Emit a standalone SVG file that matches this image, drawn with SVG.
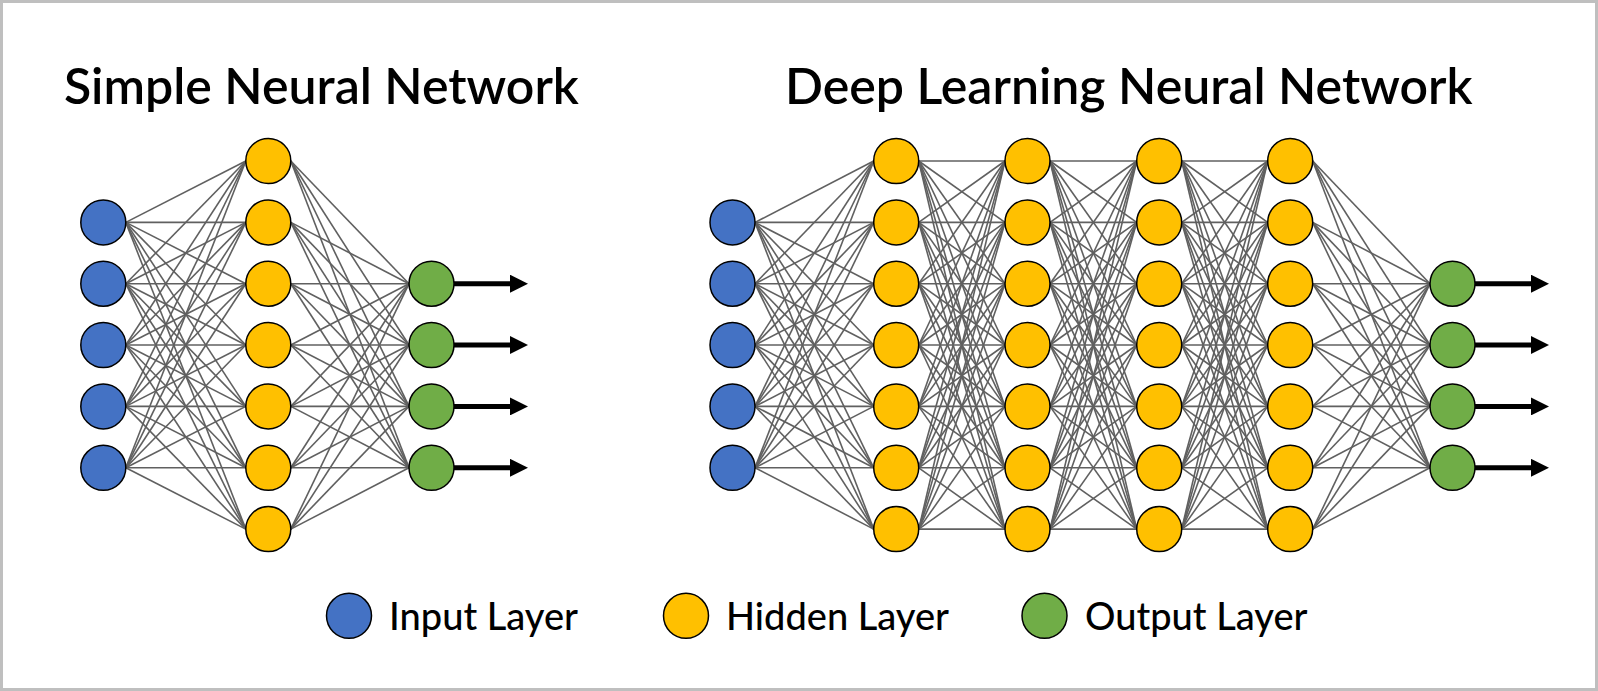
<svg xmlns="http://www.w3.org/2000/svg" width="1598" height="691" viewBox="0 0 1598 691">
<style>
.t{font-family:Lato,"Open Sans","Liberation Sans",sans-serif;font-weight:600;font-size:50px;fill:#000}
.l{font-family:Lato,"Open Sans","Liberation Sans",sans-serif;font-weight:500;font-size:38px;fill:#000}
.c line{stroke:#606060;stroke-width:1.6}
.n{stroke:#000;stroke-width:1.5}
.in{fill:#4472C4}.hd{fill:#FFC000}.ou{fill:#70AD47}
.ar{stroke:#000;stroke-width:5;marker-end:url(#ah)}
</style>
<defs>
<marker id="ah" markerUnits="userSpaceOnUse" markerWidth="18" markerHeight="18" refX="2" refY="9" orient="auto" viewBox="0 0 18 18"><path d="M0,0 L18,9 L0,18 z" fill="#000"/></marker>
</defs>
<rect x="1.5" y="1.5" width="1595" height="688" fill="#fff" stroke="#bfbfbf" stroke-width="3"/>
<text class="t" x="64" y="104">Simple Neural Network</text>
<text class="t" x="785" y="104">Deep Learning Neural Network</text>
<g id="connectors" class="c">
<line x1="125.8" y1="222.4" x2="245.8" y2="161"/><line x1="125.8" y1="222.4" x2="245.8" y2="222.4"/><line x1="125.8" y1="222.4" x2="245.8" y2="283.7"/><line x1="125.8" y1="222.4" x2="245.8" y2="345"/><line x1="125.8" y1="222.4" x2="245.8" y2="406.4"/><line x1="125.8" y1="222.4" x2="245.8" y2="467.8"/><line x1="125.8" y1="222.4" x2="245.8" y2="529.1"/>
<line x1="125.8" y1="283.7" x2="245.8" y2="161"/><line x1="125.8" y1="283.7" x2="245.8" y2="222.4"/><line x1="125.8" y1="283.7" x2="245.8" y2="283.7"/><line x1="125.8" y1="283.7" x2="245.8" y2="345"/><line x1="125.8" y1="283.7" x2="245.8" y2="406.4"/><line x1="125.8" y1="283.7" x2="245.8" y2="467.8"/><line x1="125.8" y1="283.7" x2="245.8" y2="529.1"/>
<line x1="125.8" y1="345" x2="245.8" y2="161"/><line x1="125.8" y1="345" x2="245.8" y2="222.4"/><line x1="125.8" y1="345" x2="245.8" y2="283.7"/><line x1="125.8" y1="345" x2="245.8" y2="345"/><line x1="125.8" y1="345" x2="245.8" y2="406.4"/><line x1="125.8" y1="345" x2="245.8" y2="467.8"/><line x1="125.8" y1="345" x2="245.8" y2="529.1"/>
<line x1="125.8" y1="406.4" x2="245.8" y2="161"/><line x1="125.8" y1="406.4" x2="245.8" y2="222.4"/><line x1="125.8" y1="406.4" x2="245.8" y2="283.7"/><line x1="125.8" y1="406.4" x2="245.8" y2="345"/><line x1="125.8" y1="406.4" x2="245.8" y2="406.4"/><line x1="125.8" y1="406.4" x2="245.8" y2="467.8"/><line x1="125.8" y1="406.4" x2="245.8" y2="529.1"/>
<line x1="125.8" y1="467.8" x2="245.8" y2="161"/><line x1="125.8" y1="467.8" x2="245.8" y2="222.4"/><line x1="125.8" y1="467.8" x2="245.8" y2="283.7"/><line x1="125.8" y1="467.8" x2="245.8" y2="345"/><line x1="125.8" y1="467.8" x2="245.8" y2="406.4"/><line x1="125.8" y1="467.8" x2="245.8" y2="467.8"/><line x1="125.8" y1="467.8" x2="245.8" y2="529.1"/>
<line x1="290.8" y1="161" x2="409" y2="283.7"/><line x1="290.8" y1="161" x2="409" y2="345"/><line x1="290.8" y1="161" x2="409" y2="406.4"/><line x1="290.8" y1="161" x2="409" y2="467.8"/>
<line x1="290.8" y1="222.4" x2="409" y2="283.7"/><line x1="290.8" y1="222.4" x2="409" y2="345"/><line x1="290.8" y1="222.4" x2="409" y2="406.4"/><line x1="290.8" y1="222.4" x2="409" y2="467.8"/>
<line x1="290.8" y1="283.7" x2="409" y2="283.7"/><line x1="290.8" y1="283.7" x2="409" y2="345"/><line x1="290.8" y1="283.7" x2="409" y2="406.4"/><line x1="290.8" y1="283.7" x2="409" y2="467.8"/>
<line x1="290.8" y1="345" x2="409" y2="283.7"/><line x1="290.8" y1="345" x2="409" y2="345"/><line x1="290.8" y1="345" x2="409" y2="406.4"/><line x1="290.8" y1="345" x2="409" y2="467.8"/>
<line x1="290.8" y1="406.4" x2="409" y2="283.7"/><line x1="290.8" y1="406.4" x2="409" y2="345"/><line x1="290.8" y1="406.4" x2="409" y2="406.4"/><line x1="290.8" y1="406.4" x2="409" y2="467.8"/>
<line x1="290.8" y1="467.8" x2="409" y2="283.7"/><line x1="290.8" y1="467.8" x2="409" y2="345"/><line x1="290.8" y1="467.8" x2="409" y2="406.4"/><line x1="290.8" y1="467.8" x2="409" y2="467.8"/>
<line x1="290.8" y1="529.1" x2="409" y2="283.7"/><line x1="290.8" y1="529.1" x2="409" y2="345"/><line x1="290.8" y1="529.1" x2="409" y2="406.4"/><line x1="290.8" y1="529.1" x2="409" y2="467.8"/>

<line x1="755" y1="222.4" x2="873.7" y2="161"/><line x1="755" y1="222.4" x2="873.7" y2="222.4"/><line x1="755" y1="222.4" x2="873.7" y2="283.7"/><line x1="755" y1="222.4" x2="873.7" y2="345"/><line x1="755" y1="222.4" x2="873.7" y2="406.4"/><line x1="755" y1="222.4" x2="873.7" y2="467.8"/><line x1="755" y1="222.4" x2="873.7" y2="529.1"/>
<line x1="755" y1="283.7" x2="873.7" y2="161"/><line x1="755" y1="283.7" x2="873.7" y2="222.4"/><line x1="755" y1="283.7" x2="873.7" y2="283.7"/><line x1="755" y1="283.7" x2="873.7" y2="345"/><line x1="755" y1="283.7" x2="873.7" y2="406.4"/><line x1="755" y1="283.7" x2="873.7" y2="467.8"/><line x1="755" y1="283.7" x2="873.7" y2="529.1"/>
<line x1="755" y1="345" x2="873.7" y2="161"/><line x1="755" y1="345" x2="873.7" y2="222.4"/><line x1="755" y1="345" x2="873.7" y2="283.7"/><line x1="755" y1="345" x2="873.7" y2="345"/><line x1="755" y1="345" x2="873.7" y2="406.4"/><line x1="755" y1="345" x2="873.7" y2="467.8"/><line x1="755" y1="345" x2="873.7" y2="529.1"/>
<line x1="755" y1="406.4" x2="873.7" y2="161"/><line x1="755" y1="406.4" x2="873.7" y2="222.4"/><line x1="755" y1="406.4" x2="873.7" y2="283.7"/><line x1="755" y1="406.4" x2="873.7" y2="345"/><line x1="755" y1="406.4" x2="873.7" y2="406.4"/><line x1="755" y1="406.4" x2="873.7" y2="467.8"/><line x1="755" y1="406.4" x2="873.7" y2="529.1"/>
<line x1="755" y1="467.8" x2="873.7" y2="161"/><line x1="755" y1="467.8" x2="873.7" y2="222.4"/><line x1="755" y1="467.8" x2="873.7" y2="283.7"/><line x1="755" y1="467.8" x2="873.7" y2="345"/><line x1="755" y1="467.8" x2="873.7" y2="406.4"/><line x1="755" y1="467.8" x2="873.7" y2="467.8"/><line x1="755" y1="467.8" x2="873.7" y2="529.1"/>

<line x1="918.7" y1="161" x2="1005" y2="161"/><line x1="918.7" y1="161" x2="1005" y2="222.4"/><line x1="918.7" y1="161" x2="1005" y2="283.7"/><line x1="918.7" y1="161" x2="1005" y2="345"/><line x1="918.7" y1="161" x2="1005" y2="406.4"/><line x1="918.7" y1="161" x2="1005" y2="467.8"/><line x1="918.7" y1="161" x2="1005" y2="529.1"/>
<line x1="918.7" y1="222.4" x2="1005" y2="161"/><line x1="918.7" y1="222.4" x2="1005" y2="222.4"/><line x1="918.7" y1="222.4" x2="1005" y2="283.7"/><line x1="918.7" y1="222.4" x2="1005" y2="345"/><line x1="918.7" y1="222.4" x2="1005" y2="406.4"/><line x1="918.7" y1="222.4" x2="1005" y2="467.8"/><line x1="918.7" y1="222.4" x2="1005" y2="529.1"/>
<line x1="918.7" y1="283.7" x2="1005" y2="161"/><line x1="918.7" y1="283.7" x2="1005" y2="222.4"/><line x1="918.7" y1="283.7" x2="1005" y2="283.7"/><line x1="918.7" y1="283.7" x2="1005" y2="345"/><line x1="918.7" y1="283.7" x2="1005" y2="406.4"/><line x1="918.7" y1="283.7" x2="1005" y2="467.8"/><line x1="918.7" y1="283.7" x2="1005" y2="529.1"/>
<line x1="918.7" y1="345" x2="1005" y2="161"/><line x1="918.7" y1="345" x2="1005" y2="222.4"/><line x1="918.7" y1="345" x2="1005" y2="283.7"/><line x1="918.7" y1="345" x2="1005" y2="345"/><line x1="918.7" y1="345" x2="1005" y2="406.4"/><line x1="918.7" y1="345" x2="1005" y2="467.8"/><line x1="918.7" y1="345" x2="1005" y2="529.1"/>
<line x1="918.7" y1="406.4" x2="1005" y2="161"/><line x1="918.7" y1="406.4" x2="1005" y2="222.4"/><line x1="918.7" y1="406.4" x2="1005" y2="283.7"/><line x1="918.7" y1="406.4" x2="1005" y2="345"/><line x1="918.7" y1="406.4" x2="1005" y2="406.4"/><line x1="918.7" y1="406.4" x2="1005" y2="467.8"/><line x1="918.7" y1="406.4" x2="1005" y2="529.1"/>
<line x1="918.7" y1="467.8" x2="1005" y2="161"/><line x1="918.7" y1="467.8" x2="1005" y2="222.4"/><line x1="918.7" y1="467.8" x2="1005" y2="283.7"/><line x1="918.7" y1="467.8" x2="1005" y2="345"/><line x1="918.7" y1="467.8" x2="1005" y2="406.4"/><line x1="918.7" y1="467.8" x2="1005" y2="467.8"/><line x1="918.7" y1="467.8" x2="1005" y2="529.1"/>
<line x1="918.7" y1="529.1" x2="1005" y2="161"/><line x1="918.7" y1="529.1" x2="1005" y2="222.4"/><line x1="918.7" y1="529.1" x2="1005" y2="283.7"/><line x1="918.7" y1="529.1" x2="1005" y2="345"/><line x1="918.7" y1="529.1" x2="1005" y2="406.4"/><line x1="918.7" y1="529.1" x2="1005" y2="467.8"/><line x1="918.7" y1="529.1" x2="1005" y2="529.1"/>

<line x1="1050" y1="161" x2="1136.7" y2="161"/><line x1="1050" y1="161" x2="1136.7" y2="222.4"/><line x1="1050" y1="161" x2="1136.7" y2="283.7"/><line x1="1050" y1="161" x2="1136.7" y2="345"/><line x1="1050" y1="161" x2="1136.7" y2="406.4"/><line x1="1050" y1="161" x2="1136.7" y2="467.8"/><line x1="1050" y1="161" x2="1136.7" y2="529.1"/>
<line x1="1050" y1="222.4" x2="1136.7" y2="161"/><line x1="1050" y1="222.4" x2="1136.7" y2="222.4"/><line x1="1050" y1="222.4" x2="1136.7" y2="283.7"/><line x1="1050" y1="222.4" x2="1136.7" y2="345"/><line x1="1050" y1="222.4" x2="1136.7" y2="406.4"/><line x1="1050" y1="222.4" x2="1136.7" y2="467.8"/><line x1="1050" y1="222.4" x2="1136.7" y2="529.1"/>
<line x1="1050" y1="283.7" x2="1136.7" y2="161"/><line x1="1050" y1="283.7" x2="1136.7" y2="222.4"/><line x1="1050" y1="283.7" x2="1136.7" y2="283.7"/><line x1="1050" y1="283.7" x2="1136.7" y2="345"/><line x1="1050" y1="283.7" x2="1136.7" y2="406.4"/><line x1="1050" y1="283.7" x2="1136.7" y2="467.8"/><line x1="1050" y1="283.7" x2="1136.7" y2="529.1"/>
<line x1="1050" y1="345" x2="1136.7" y2="161"/><line x1="1050" y1="345" x2="1136.7" y2="222.4"/><line x1="1050" y1="345" x2="1136.7" y2="283.7"/><line x1="1050" y1="345" x2="1136.7" y2="345"/><line x1="1050" y1="345" x2="1136.7" y2="406.4"/><line x1="1050" y1="345" x2="1136.7" y2="467.8"/><line x1="1050" y1="345" x2="1136.7" y2="529.1"/>
<line x1="1050" y1="406.4" x2="1136.7" y2="161"/><line x1="1050" y1="406.4" x2="1136.7" y2="222.4"/><line x1="1050" y1="406.4" x2="1136.7" y2="283.7"/><line x1="1050" y1="406.4" x2="1136.7" y2="345"/><line x1="1050" y1="406.4" x2="1136.7" y2="406.4"/><line x1="1050" y1="406.4" x2="1136.7" y2="467.8"/><line x1="1050" y1="406.4" x2="1136.7" y2="529.1"/>
<line x1="1050" y1="467.8" x2="1136.7" y2="161"/><line x1="1050" y1="467.8" x2="1136.7" y2="222.4"/><line x1="1050" y1="467.8" x2="1136.7" y2="283.7"/><line x1="1050" y1="467.8" x2="1136.7" y2="345"/><line x1="1050" y1="467.8" x2="1136.7" y2="406.4"/><line x1="1050" y1="467.8" x2="1136.7" y2="467.8"/><line x1="1050" y1="467.8" x2="1136.7" y2="529.1"/>
<line x1="1050" y1="529.1" x2="1136.7" y2="161"/><line x1="1050" y1="529.1" x2="1136.7" y2="222.4"/><line x1="1050" y1="529.1" x2="1136.7" y2="283.7"/><line x1="1050" y1="529.1" x2="1136.7" y2="345"/><line x1="1050" y1="529.1" x2="1136.7" y2="406.4"/><line x1="1050" y1="529.1" x2="1136.7" y2="467.8"/><line x1="1050" y1="529.1" x2="1136.7" y2="529.1"/>

<line x1="1181.7" y1="161" x2="1267.7" y2="161"/><line x1="1181.7" y1="161" x2="1267.7" y2="222.4"/><line x1="1181.7" y1="161" x2="1267.7" y2="283.7"/><line x1="1181.7" y1="161" x2="1267.7" y2="345"/><line x1="1181.7" y1="161" x2="1267.7" y2="406.4"/><line x1="1181.7" y1="161" x2="1267.7" y2="467.8"/><line x1="1181.7" y1="161" x2="1267.7" y2="529.1"/>
<line x1="1181.7" y1="222.4" x2="1267.7" y2="161"/><line x1="1181.7" y1="222.4" x2="1267.7" y2="222.4"/><line x1="1181.7" y1="222.4" x2="1267.7" y2="283.7"/><line x1="1181.7" y1="222.4" x2="1267.7" y2="345"/><line x1="1181.7" y1="222.4" x2="1267.7" y2="406.4"/><line x1="1181.7" y1="222.4" x2="1267.7" y2="467.8"/><line x1="1181.7" y1="222.4" x2="1267.7" y2="529.1"/>
<line x1="1181.7" y1="283.7" x2="1267.7" y2="161"/><line x1="1181.7" y1="283.7" x2="1267.7" y2="222.4"/><line x1="1181.7" y1="283.7" x2="1267.7" y2="283.7"/><line x1="1181.7" y1="283.7" x2="1267.7" y2="345"/><line x1="1181.7" y1="283.7" x2="1267.7" y2="406.4"/><line x1="1181.7" y1="283.7" x2="1267.7" y2="467.8"/><line x1="1181.7" y1="283.7" x2="1267.7" y2="529.1"/>
<line x1="1181.7" y1="345" x2="1267.7" y2="161"/><line x1="1181.7" y1="345" x2="1267.7" y2="222.4"/><line x1="1181.7" y1="345" x2="1267.7" y2="283.7"/><line x1="1181.7" y1="345" x2="1267.7" y2="345"/><line x1="1181.7" y1="345" x2="1267.7" y2="406.4"/><line x1="1181.7" y1="345" x2="1267.7" y2="467.8"/><line x1="1181.7" y1="345" x2="1267.7" y2="529.1"/>
<line x1="1181.7" y1="406.4" x2="1267.7" y2="161"/><line x1="1181.7" y1="406.4" x2="1267.7" y2="222.4"/><line x1="1181.7" y1="406.4" x2="1267.7" y2="283.7"/><line x1="1181.7" y1="406.4" x2="1267.7" y2="345"/><line x1="1181.7" y1="406.4" x2="1267.7" y2="406.4"/><line x1="1181.7" y1="406.4" x2="1267.7" y2="467.8"/><line x1="1181.7" y1="406.4" x2="1267.7" y2="529.1"/>
<line x1="1181.7" y1="467.8" x2="1267.7" y2="161"/><line x1="1181.7" y1="467.8" x2="1267.7" y2="222.4"/><line x1="1181.7" y1="467.8" x2="1267.7" y2="283.7"/><line x1="1181.7" y1="467.8" x2="1267.7" y2="345"/><line x1="1181.7" y1="467.8" x2="1267.7" y2="406.4"/><line x1="1181.7" y1="467.8" x2="1267.7" y2="467.8"/><line x1="1181.7" y1="467.8" x2="1267.7" y2="529.1"/>
<line x1="1181.7" y1="529.1" x2="1267.7" y2="161"/><line x1="1181.7" y1="529.1" x2="1267.7" y2="222.4"/><line x1="1181.7" y1="529.1" x2="1267.7" y2="283.7"/><line x1="1181.7" y1="529.1" x2="1267.7" y2="345"/><line x1="1181.7" y1="529.1" x2="1267.7" y2="406.4"/><line x1="1181.7" y1="529.1" x2="1267.7" y2="467.8"/><line x1="1181.7" y1="529.1" x2="1267.7" y2="529.1"/>

<line x1="1312.7" y1="161" x2="1430" y2="283.7"/><line x1="1312.7" y1="161" x2="1430" y2="345"/><line x1="1312.7" y1="161" x2="1430" y2="406.4"/><line x1="1312.7" y1="161" x2="1430" y2="467.8"/>
<line x1="1312.7" y1="222.4" x2="1430" y2="283.7"/><line x1="1312.7" y1="222.4" x2="1430" y2="345"/><line x1="1312.7" y1="222.4" x2="1430" y2="406.4"/><line x1="1312.7" y1="222.4" x2="1430" y2="467.8"/>
<line x1="1312.7" y1="283.7" x2="1430" y2="283.7"/><line x1="1312.7" y1="283.7" x2="1430" y2="345"/><line x1="1312.7" y1="283.7" x2="1430" y2="406.4"/><line x1="1312.7" y1="283.7" x2="1430" y2="467.8"/>
<line x1="1312.7" y1="345" x2="1430" y2="283.7"/><line x1="1312.7" y1="345" x2="1430" y2="345"/><line x1="1312.7" y1="345" x2="1430" y2="406.4"/><line x1="1312.7" y1="345" x2="1430" y2="467.8"/>
<line x1="1312.7" y1="406.4" x2="1430" y2="283.7"/><line x1="1312.7" y1="406.4" x2="1430" y2="345"/><line x1="1312.7" y1="406.4" x2="1430" y2="406.4"/><line x1="1312.7" y1="406.4" x2="1430" y2="467.8"/>
<line x1="1312.7" y1="467.8" x2="1430" y2="283.7"/><line x1="1312.7" y1="467.8" x2="1430" y2="345"/><line x1="1312.7" y1="467.8" x2="1430" y2="406.4"/><line x1="1312.7" y1="467.8" x2="1430" y2="467.8"/>
<line x1="1312.7" y1="529.1" x2="1430" y2="283.7"/><line x1="1312.7" y1="529.1" x2="1430" y2="345"/><line x1="1312.7" y1="529.1" x2="1430" y2="406.4"/><line x1="1312.7" y1="529.1" x2="1430" y2="467.8"/>
</g>
<g id="arrows">
<line class="ar" x1="454" y1="283.7" x2="512" y2="283.7"/><line class="ar" x1="454" y1="345" x2="512" y2="345"/><line class="ar" x1="454" y1="406.4" x2="512" y2="406.4"/><line class="ar" x1="454" y1="467.8" x2="512" y2="467.8"/>
<line class="ar" x1="1475" y1="283.7" x2="1533" y2="283.7"/><line class="ar" x1="1475" y1="345" x2="1533" y2="345"/><line class="ar" x1="1475" y1="406.4" x2="1533" y2="406.4"/><line class="ar" x1="1475" y1="467.8" x2="1533" y2="467.8"/>
</g>
<g id="simple-input">
<g id="s-in1"><circle class="n in" cx="103.3" cy="222.4" r="22.5"/></g>
<g id="s-in2"><circle class="n in" cx="103.3" cy="283.7" r="22.5"/></g>
<g id="s-in3"><circle class="n in" cx="103.3" cy="345" r="22.5"/></g>
<g id="s-in4"><circle class="n in" cx="103.3" cy="406.4" r="22.5"/></g>
<g id="s-in5"><circle class="n in" cx="103.3" cy="467.8" r="22.5"/></g>
</g>
<g id="simple-hidden">
<g id="s-h1"><circle class="n hd" cx="268.3" cy="161" r="22.5"/></g>
<g id="s-h2"><circle class="n hd" cx="268.3" cy="222.4" r="22.5"/></g>
<g id="s-h3"><circle class="n hd" cx="268.3" cy="283.7" r="22.5"/></g>
<g id="s-h4"><circle class="n hd" cx="268.3" cy="345" r="22.5"/></g>
<g id="s-h5"><circle class="n hd" cx="268.3" cy="406.4" r="22.5"/></g>
<g id="s-h6"><circle class="n hd" cx="268.3" cy="467.8" r="22.5"/></g>
<g id="s-h7"><circle class="n hd" cx="268.3" cy="529.1" r="22.5"/></g>
</g>
<g id="simple-output">
<g id="s-o1"><circle class="n ou" cx="431.5" cy="283.7" r="22.5"/></g>
<g id="s-o2"><circle class="n ou" cx="431.5" cy="345" r="22.5"/></g>
<g id="s-o3"><circle class="n ou" cx="431.5" cy="406.4" r="22.5"/></g>
<g id="s-o4"><circle class="n ou" cx="431.5" cy="467.8" r="22.5"/></g>
</g>
<g id="deep-input">
<g id="d-in1"><circle class="n in" cx="732.5" cy="222.4" r="22.5"/></g>
<g id="d-in2"><circle class="n in" cx="732.5" cy="283.7" r="22.5"/></g>
<g id="d-in3"><circle class="n in" cx="732.5" cy="345" r="22.5"/></g>
<g id="d-in4"><circle class="n in" cx="732.5" cy="406.4" r="22.5"/></g>
<g id="d-in5"><circle class="n in" cx="732.5" cy="467.8" r="22.5"/></g>
</g>
<g id="deep-hidden1">
<g id="d-h1-1"><circle class="n hd" cx="896.2" cy="161" r="22.5"/></g>
<g id="d-h1-2"><circle class="n hd" cx="896.2" cy="222.4" r="22.5"/></g>
<g id="d-h1-3"><circle class="n hd" cx="896.2" cy="283.7" r="22.5"/></g>
<g id="d-h1-4"><circle class="n hd" cx="896.2" cy="345" r="22.5"/></g>
<g id="d-h1-5"><circle class="n hd" cx="896.2" cy="406.4" r="22.5"/></g>
<g id="d-h1-6"><circle class="n hd" cx="896.2" cy="467.8" r="22.5"/></g>
<g id="d-h1-7"><circle class="n hd" cx="896.2" cy="529.1" r="22.5"/></g>
</g>
<g id="deep-hidden2">
<g id="d-h2-1"><circle class="n hd" cx="1027.5" cy="161" r="22.5"/></g>
<g id="d-h2-2"><circle class="n hd" cx="1027.5" cy="222.4" r="22.5"/></g>
<g id="d-h2-3"><circle class="n hd" cx="1027.5" cy="283.7" r="22.5"/></g>
<g id="d-h2-4"><circle class="n hd" cx="1027.5" cy="345" r="22.5"/></g>
<g id="d-h2-5"><circle class="n hd" cx="1027.5" cy="406.4" r="22.5"/></g>
<g id="d-h2-6"><circle class="n hd" cx="1027.5" cy="467.8" r="22.5"/></g>
<g id="d-h2-7"><circle class="n hd" cx="1027.5" cy="529.1" r="22.5"/></g>
</g>
<g id="deep-hidden3">
<g id="d-h3-1"><circle class="n hd" cx="1159.2" cy="161" r="22.5"/></g>
<g id="d-h3-2"><circle class="n hd" cx="1159.2" cy="222.4" r="22.5"/></g>
<g id="d-h3-3"><circle class="n hd" cx="1159.2" cy="283.7" r="22.5"/></g>
<g id="d-h3-4"><circle class="n hd" cx="1159.2" cy="345" r="22.5"/></g>
<g id="d-h3-5"><circle class="n hd" cx="1159.2" cy="406.4" r="22.5"/></g>
<g id="d-h3-6"><circle class="n hd" cx="1159.2" cy="467.8" r="22.5"/></g>
<g id="d-h3-7"><circle class="n hd" cx="1159.2" cy="529.1" r="22.5"/></g>
</g>
<g id="deep-hidden4">
<g id="d-h4-1"><circle class="n hd" cx="1290.2" cy="161" r="22.5"/></g>
<g id="d-h4-2"><circle class="n hd" cx="1290.2" cy="222.4" r="22.5"/></g>
<g id="d-h4-3"><circle class="n hd" cx="1290.2" cy="283.7" r="22.5"/></g>
<g id="d-h4-4"><circle class="n hd" cx="1290.2" cy="345" r="22.5"/></g>
<g id="d-h4-5"><circle class="n hd" cx="1290.2" cy="406.4" r="22.5"/></g>
<g id="d-h4-6"><circle class="n hd" cx="1290.2" cy="467.8" r="22.5"/></g>
<g id="d-h4-7"><circle class="n hd" cx="1290.2" cy="529.1" r="22.5"/></g>
</g>
<g id="deep-output">
<g id="d-o1"><circle class="n ou" cx="1452.5" cy="283.7" r="22.5"/></g>
<g id="d-o2"><circle class="n ou" cx="1452.5" cy="345" r="22.5"/></g>
<g id="d-o3"><circle class="n ou" cx="1452.5" cy="406.4" r="22.5"/></g>
<g id="d-o4"><circle class="n ou" cx="1452.5" cy="467.8" r="22.5"/></g>
</g>
<g id="legend-input"><circle class="n in" cx="349" cy="615.8" r="22.5"/><text class="l" x="389" y="630">Input Layer</text></g>
<g id="legend-hidden"><circle class="n hd" cx="686" cy="615.8" r="22.5"/><text class="l" x="726" y="630">Hidden Layer</text></g>
<g id="legend-output"><circle class="n ou" cx="1044.5" cy="615.8" r="22.5"/><text class="l" x="1085" y="630">Output Layer</text></g>
</svg>
